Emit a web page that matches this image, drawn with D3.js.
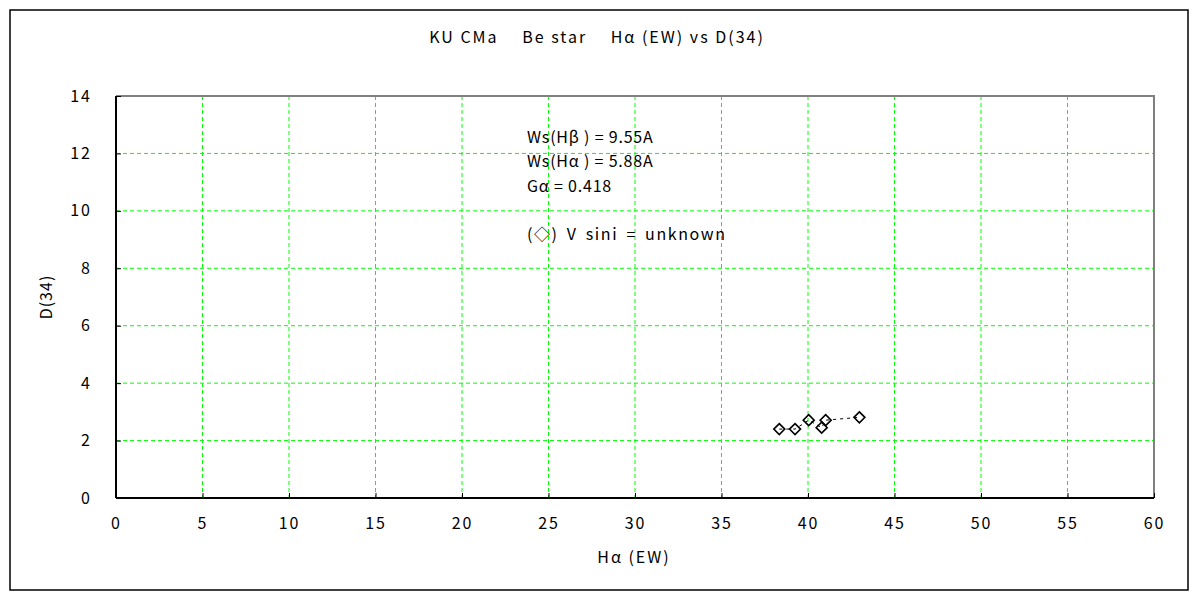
<!DOCTYPE html>
<html><head><meta charset="utf-8">
<script src="https://cdn.jsdelivr.net/npm/d3@7"></script>
<style>body{margin:0;background:#fff}svg{display:block}text{font-family:"Noto Sans CJK JP","DejaVu Sans",sans-serif;fill:#000}</style>
</head><body>
<svg id="c" width="1200" height="600"></svg>
<script>
const xValues = [38.34, 39.25, 40.04, 40.79, 41.02, 42.97];
const yValues = [2.40, 2.40, 2.71, 2.45, 2.71, 2.81];
const xTicks = [0,5,10,15,20,25,30,35,40,45,50,55,60];
const yTicks = [0,2,4,6,8,10,12,14];
const title = "KU CMa\u3000 Be star\u3000 H\u03b1 (EW) vs D(34)";
const xLabel = "H\u03b1 (EW)";
const yLabel = "D(34)";
const notes = ["Ws(H\u03b2 ) = 9.55A", "Ws(H\u03b1 ) = 5.88A", "G\u03b1 = 0.418", "", "(\u25c7) V sini = unknown"];

const svg = d3.select("#c");
const L=116,R=1154,T=96,B=498;
const x = d3.scaleLinear().domain([0,60]).range([L,R]);
const y = d3.scaleLinear().domain([0,14]).range([B,T]);

svg.append("rect").attr("x",10).attr("y",10).attr("width",1178).attr("height",580)
  .attr("fill","#fff").attr("stroke","#000").attr("stroke-width",1.5);

// grid
const g = svg.append("g");
g.selectAll(".vx").data(xTicks.filter(d=>d>0&&d<60)).join("line")
  .attr("x1",d=>x(d)).attr("x2",d=>x(d)).attr("y1",T).attr("y2",B)
  .attr("stroke","#00ff00").attr("stroke-dasharray","4,3").attr("stroke-width",1);
g.selectAll(".hy").data(yTicks.filter(d=>d>0&&d<14)).join("line")
  .attr("y1",d=>y(d)).attr("y2",d=>y(d)).attr("x1",L).attr("x2",R)
  .attr("stroke","#00ff00").attr("stroke-dasharray","4,3").attr("stroke-width",1);

// frame: top/right grey
svg.append("path").attr("d",`M${L},${T}H${R}V${B}`).attr("fill","none").attr("stroke","#808080").attr("stroke-width",2);

// axes
const xa = svg.append("g").attr("transform",`translate(0,${B})`)
  .call(d3.axisBottom(x).tickValues(xTicks).tickSize(-5).tickPadding(20).tickFormat(d3.format("d")));
const ya = svg.append("g").attr("transform",`translate(${L},0)`)
  .call(d3.axisLeft(y).tickValues(yTicks).tickSize(-5).tickPadding(24).tickFormat(d3.format("d")));
[xa,ya].forEach(a=>{
  a.select(".domain").attr("stroke","#000").attr("stroke-width",2);
  a.selectAll(".tick line").attr("stroke","#000");
  a.selectAll(".tick text").attr("font-size",16).attr("letter-spacing",2).attr("fill","#000");
});
xa.select(".domain").attr("d",`M${L},0H${R}`);
ya.select(".domain").attr("d",`M0,${T}V${B}`);

// line + markers
const pts = xValues.map((v,i)=>[v,yValues[i]]);
svg.append("path").datum(pts)
  .attr("d",d3.line().x(d=>x(d[0])).y(d=>y(d[1])))
  .attr("fill","none").attr("stroke","#000").attr("stroke-width",1).attr("stroke-dasharray","3,4");
svg.selectAll(".pt").data(pts).join("path")
  .attr("transform",d=>`translate(${x(d[0])},${y(d[1])})`)
  .attr("d","M0,-5.5L5.5,0L0,5.5L-5.5,0Z")
  .attr("fill","none").attr("stroke","#000").attr("stroke-width",1.6);

// texts
svg.append("text").attr("x",597).attr("y",43).attr("text-anchor","middle").attr("font-size",16).attr("letter-spacing",2).text(title);
svg.append("text").attr("x",634).attr("y",563).attr("text-anchor","middle").attr("font-size",16).attr("letter-spacing",2).text(xLabel);
svg.append("text").attr("transform","translate(52,297) rotate(-90)").attr("text-anchor","middle").attr("font-size",16).attr("letter-spacing",1).text(yLabel);
svg.selectAll(".note").data(notes).join("text")
  .attr("x",527).attr("y",(d,i)=>143+i*24.3).attr("font-size",16)
  .attr("letter-spacing",(d,i)=>i===4?1.6:0.8).attr("word-spacing",(d,i)=>i===4?3:0).text(d=>d);
</script>
</body></html>
